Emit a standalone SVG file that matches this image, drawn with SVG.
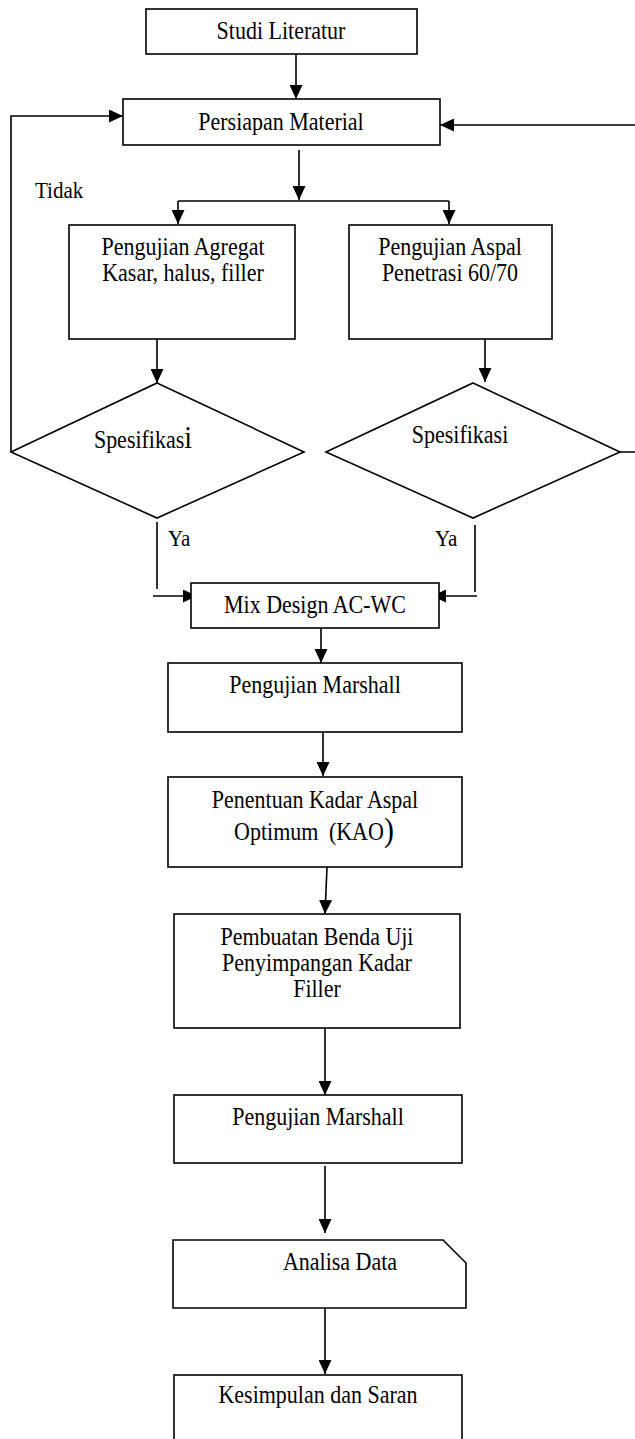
<svg xmlns="http://www.w3.org/2000/svg" width="635" height="1439" viewBox="0 0 635 1439">
<defs>
<style>
.n{fill:#fff;stroke:#000;stroke-width:1.6}
.c{fill:none;stroke:#000;stroke-width:1.6}
.t{font-family:"Liberation Serif","Times New Roman",serif;font-size:22px;fill:#000;text-anchor:middle}
.l{font-family:"Liberation Serif","Times New Roman",serif;font-size:21px;fill:#000}
</style>
<marker id="ah" markerUnits="userSpaceOnUse" markerWidth="14" markerHeight="13" refX="14" refY="6.5" orient="auto">
<path d="M0,0 L14,6.5 L0,13 z" fill="#000"/>
</marker>
</defs>
<rect width="635" height="1439" fill="#fff"/>
<g id="connectors">
<path class="c" d="M296,54 V99" marker-end="url(#ah)"/>
<path class="c" d="M299,150 V200" marker-end="url(#ah)"/>
<path class="c" d="M178,201 H449"/>
<path class="c" d="M178,201 V224" marker-end="url(#ah)"/>
<path class="c" d="M449,201 V224" marker-end="url(#ah)"/>
<path class="c" d="M157,339 V383" marker-end="url(#ah)"/>
<path class="c" d="M485,339 V382" marker-end="url(#ah)"/>
<path class="c" d="M11,452 V116 H123" marker-end="url(#ah)"/>
<path class="c" d="M620,452 H645 V125 H440" marker-end="url(#ah)"/>
<path class="c" d="M157,522 V589"/>
<path class="c" d="M153,596 H197" marker-end="url(#ah)"/>
<path class="c" d="M475,525 V592"/>
<path class="c" d="M477,596 H432" marker-end="url(#ah)"/>
<path class="c" d="M321,619 V663" marker-end="url(#ah)"/>
<path class="c" d="M323,732 V776" marker-end="url(#ah)"/>
<path class="c" d="M327,867 L325,914" marker-end="url(#ah)"/>
<path class="c" d="M325,1028 V1095" marker-end="url(#ah)"/>
<path class="c" d="M325,1166 V1233" marker-end="url(#ah)"/>
<path class="c" d="M325,1307 V1374" marker-end="url(#ah)"/>
<text class="l" x="35" y="198" transform="matrix(1,0,0,1.14,0,-27.72)">Tidak</text>
<text class="l" x="168" y="546" transform="matrix(1,0,0,1.14,0,-76.44)">Ya</text>
<text class="l" x="435" y="546" transform="matrix(1,0,0,1.14,0,-76.44)">Ya</text>
</g>
<g id="studi">
<rect class="n" x="146" y="9" width="271" height="45"/>
<text class="t" x="281" y="39" transform="matrix(1,0,0,1.14,0,-5.46)">Studi Literatur</text>
</g>
<g id="persiapan">
<rect class="n" x="123" y="99" width="317" height="46"/>
<text class="t" x="281" y="130" transform="matrix(1,0,0,1.14,0,-18.2)">Persiapan Material</text>
</g>
<g id="agregat">
<rect class="n" x="69" y="225" width="226" height="114"/>
<text class="t" x="183" y="255" transform="matrix(1,0,0,1.14,0,-35.7)">Pengujian Agregat</text>
<text class="t" x="183" y="281" transform="matrix(1,0,0,1.14,0,-39.34)">Kasar, halus, filler</text>
</g>
<g id="aspal">
<rect class="n" x="349" y="225" width="203" height="114"/>
<text class="t" x="450" y="255" transform="matrix(1,0,0,1.14,0,-35.7)">Pengujian Aspal</text>
<text class="t" x="450" y="281" transform="matrix(1,0,0,1.14,0,-39.34)">Penetrasi 60/70</text>
</g>
<g id="spes1">
<path class="n" d="M157,383 L304,452 L157,518 L11,452 Z"/>
<text class="t" x="143" y="448" transform="matrix(1,0,0,1.14,0,-62.72)">Spesifikas<tspan font-size="28">i</tspan></text>
</g>
<g id="spes2">
<path class="n" d="M473,383 L620,452 L473,518 L326,452 Z"/>
<text class="t" x="460" y="443" transform="matrix(1,0,0,1.14,0,-62.02)">Spesifikasi</text>
</g>
<g id="mix">
<rect class="n" x="191" y="583" width="248" height="45"/>
<text class="t" x="315" y="613" font-size="20" transform="matrix(1,0,0,1.14,0,-85.82)">Mix Design AC-WC</text>
</g>
<g id="marshall1">
<rect class="n" x="168" y="663" width="294" height="69"/>
<text class="t" x="315" y="693" transform="matrix(1,0,0,1.14,0,-97.02)">Pengujian Marshall</text>
</g>
<g id="kao">
<rect class="n" x="168" y="777" width="294" height="90"/>
<text class="t" x="315" y="808" transform="matrix(1,0,0,1.14,0,-113.12)">Penentuan Kadar Aspal</text>
<text class="t" x="314" y="840" transform="matrix(1,0,0,1.14,0,-117.6)">Optimum <tspan dx="5">(KAO</tspan><tspan font-size="30" dy="1">)</tspan></text>
</g>
<g id="pembuatan">
<rect class="n" x="174" y="914" width="286" height="114"/>
<text class="t" x="317" y="945" transform="matrix(1,0,0,1.14,0,-132.3)">Pembuatan Benda Uji</text>
<text class="t" x="317" y="971" transform="matrix(1,0,0,1.14,0,-135.94)">Penyimpangan Kadar</text>
<text class="t" x="317" y="997" transform="matrix(1,0,0,1.14,0,-139.58)">Filler</text>
</g>
<g id="marshall2">
<rect class="n" x="174" y="1095" width="288" height="68"/>
<text class="t" x="318" y="1125" transform="matrix(1,0,0,1.14,0,-157.5)">Pengujian Marshall</text>
</g>
<g id="analisa">
<path class="n" d="M173,1240 H443 L466,1263 V1308 H173 Z"/>
<text class="t" x="340" y="1270" transform="matrix(1,0,0,1.14,0,-177.8)">Analisa Data</text>
</g>
<g id="kesimpulan">
<rect class="n" x="174" y="1375" width="288" height="100"/>
<text class="t" x="318" y="1403" transform="matrix(1,0,0,1.14,0,-196.42)">Kesimpulan dan Saran</text>
</g>
</svg>
